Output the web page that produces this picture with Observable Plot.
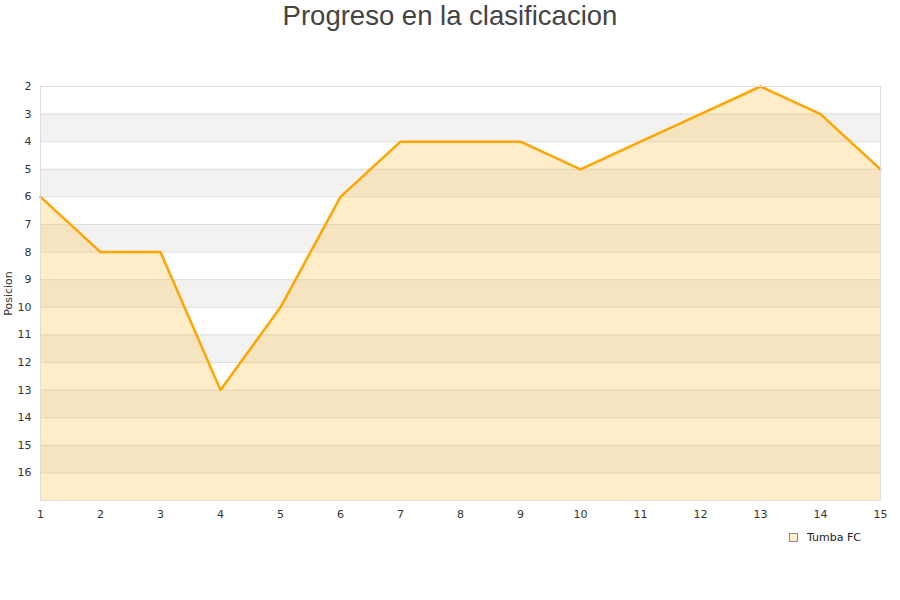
<!DOCTYPE html>
<html>
<head>
<meta charset="utf-8">
<script src="https://cdn.jsdelivr.net/npm/d3@7"></script>
<script src="https://cdn.jsdelivr.net/npm/@observablehq/plot@0.6"></script>
<style>
  body { margin: 0; background: #fff; width: 900px; height: 600px; position: relative; overflow: hidden; }
  #title { height: 40px; text-align: center; font-family: "Liberation Sans", Arial, sans-serif; font-size: 27.5px; color: #444; line-height: 32px; }
  #legend { position: absolute; left: 789px; top: 531px; font-family: "DejaVu Sans", sans-serif; font-size: 11px; color: #222; display: flex; align-items: center; }
  #legend .sw { width: 7px; height: 7px; border: 1px solid #888; background: #ffecc9; margin-right: 9px; }
</style>
</head>
<body>
<div id="title">Progreso en la clasificacion</div>
<div id="chart"></div>
<div id="legend"><span class="sw"></span>Tumba FC</div>
<script>
// Jornadas y posición del equipo en cada una
const jornadas = [1, 2, 3, 4, 5, 6, 7, 8, 9, 10, 11, 12, 13, 14, 15];
const posiciones = [6, 8, 8, 13, 10, 6, 4, 4, 4, 5, 4, 3, 2, 3, 5];
const equipo = "Tumba FC";

// Marcas del eje de posiciones y franjas sombreadas alternas
const yTicks = [2, 3, 4, 5, 6, 7, 8, 9, 10, 11, 12, 13, 14, 15, 16];
const gridLines = [2, 3, 4, 5, 6, 7, 8, 9, 10, 11, 12, 13, 14, 15, 16, 17];
const bandStarts = [3, 5, 7, 9, 11, 13, 15];
const yMin = 2, yMax = 17;

const data = jornadas.map((j, i) => ({ jornada: j, posicion: posiciones[i], equipo }));
const bands = bandStarts.map(b => ({ y1: b, y2: b + 1 }));

const chart = Plot.plot({
  width: 900,
  height: 520,
  marginTop: 46,
  marginBottom: 60,
  marginLeft: 40,
  marginRight: 20,
  style: { fontFamily: "DejaVu Sans, sans-serif", fontSize: "11px", color: "#333", background: "#fff" },
  x: { domain: [1, 15], ticks: jornadas, tickSize: 0, tickPadding: 10, label: null, tickFormat: d => String(d) },
  y: { domain: [yMin, yMax], reverse: true, ticks: yTicks, tickSize: 0, tickPadding: 9, label: "Posicion", labelAnchor: "center", labelArrow: "none", labelOffset: 36 },
  marks: [
    Plot.rectY(bands, { x1: 1, x2: 15, y1: "y1", y2: "y2", fill: "#f2f2f2" }),
    Plot.ruleY(gridLines, { stroke: "#dddddd", strokeWidth: 1 }),
    Plot.areaY(data, { x: "jornada", y1: () => yMax, y2: "posicion", fill: "rgb(255,191,75)", fillOpacity: 0.3 }),
    Plot.lineY(data, { x: "jornada", y: "posicion", stroke: "#ffa500", strokeWidth: 2.5 }),
    Plot.frame({ stroke: "#dddddd" })
  ]
});
document.getElementById("chart").appendChild(chart);
</script>
</body>
</html>
